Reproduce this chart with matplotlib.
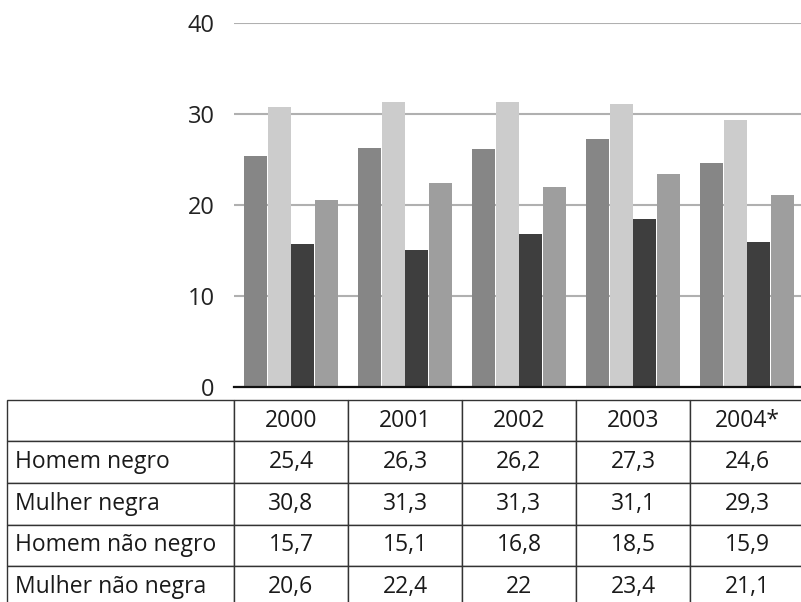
import numpy as np
import matplotlib.pyplot as plt

plt.rcParams['font.family'] = ['Open Sans', 'DejaVu Sans']

years = ['2000', '2001', '2002', '2003', '2004*']
series = ['Homem negro', 'Mulher negra', 'Homem não negro', 'Mulher não negra']
homem_negro = [25.4, 26.3, 26.2, 27.3, 24.6]
mulher_negra = [30.8, 31.3, 31.3, 31.1, 29.3]
homem_nao_negro = [15.7, 15.1, 16.8, 18.5, 15.9]
mulher_nao_negra = [20.6, 22.4, 22.0, 23.4, 21.1]
values = [homem_negro, mulher_negra, homem_nao_negro, mulher_nao_negra]
colors = ['#868686', '#cccccc', '#3e3e3e', '#9e9e9e']

fig = plt.figure(figsize=(8.01, 6.02), dpi=100)
ax = fig.add_axes([234 / 801, (602 - 387) / 602, 570 / 801, 364 / 602])

x = np.arange(len(years))
step = 0.207
for i, (vals, c) in enumerate(zip(values, colors)):
    ax.bar(x + (i - 1.5) * step, vals, width=0.2, color=c, zorder=2)

ax.set_xlim(-0.5, 4.5)
ax.set_ylim(0, 40)
ax.set_yticks([0, 10, 20, 30, 40])
ax.set_yticklabels(['0', '10', '20', '30', '40'], fontsize=17, color='#222222')
ax.tick_params(axis='y', length=0, pad=14)
ax.set_xticks([])
ax.grid(axis='y', color='#b0b0b0', linewidth=1.5, zorder=0)
for s in ['top', 'right', 'left']:
    ax.spines[s].set_visible(False)
ax.spines['bottom'].set_color('#111111')
ax.spines['bottom'].set_linewidth(1.6)
ax.spines['bottom'].set_zorder(3)

# data table under the bars
def fmt(v):
    s = ('%.1f' % v).replace('.', ',')
    return s[:-2] if s.endswith(',0') else s

cells = [[''] + years]
for name, vals in zip(series, values):
    cells.append([name] + [fmt(v) for v in vals])

tab = ax.table(cellText=cells, colWidths=[227] + [114] * 5,
               bbox=[-227 / 570, -0.6058, 797 / 570, 0.5701], cellLoc='center')
tab.auto_set_font_size(False)
for (r, c), cell in tab.get_celld().items():
    cell.set_edgecolor('#333333')
    cell.set_linewidth(1.0)
    cell.set_fontsize(16.5)
    cell.get_text().set_color('#1a1a1a')
    if c == 0:
        cell.get_text().set_horizontalalignment('left')
        cell.PAD = 0.035

fig.savefig('out.png', dpi=100)
